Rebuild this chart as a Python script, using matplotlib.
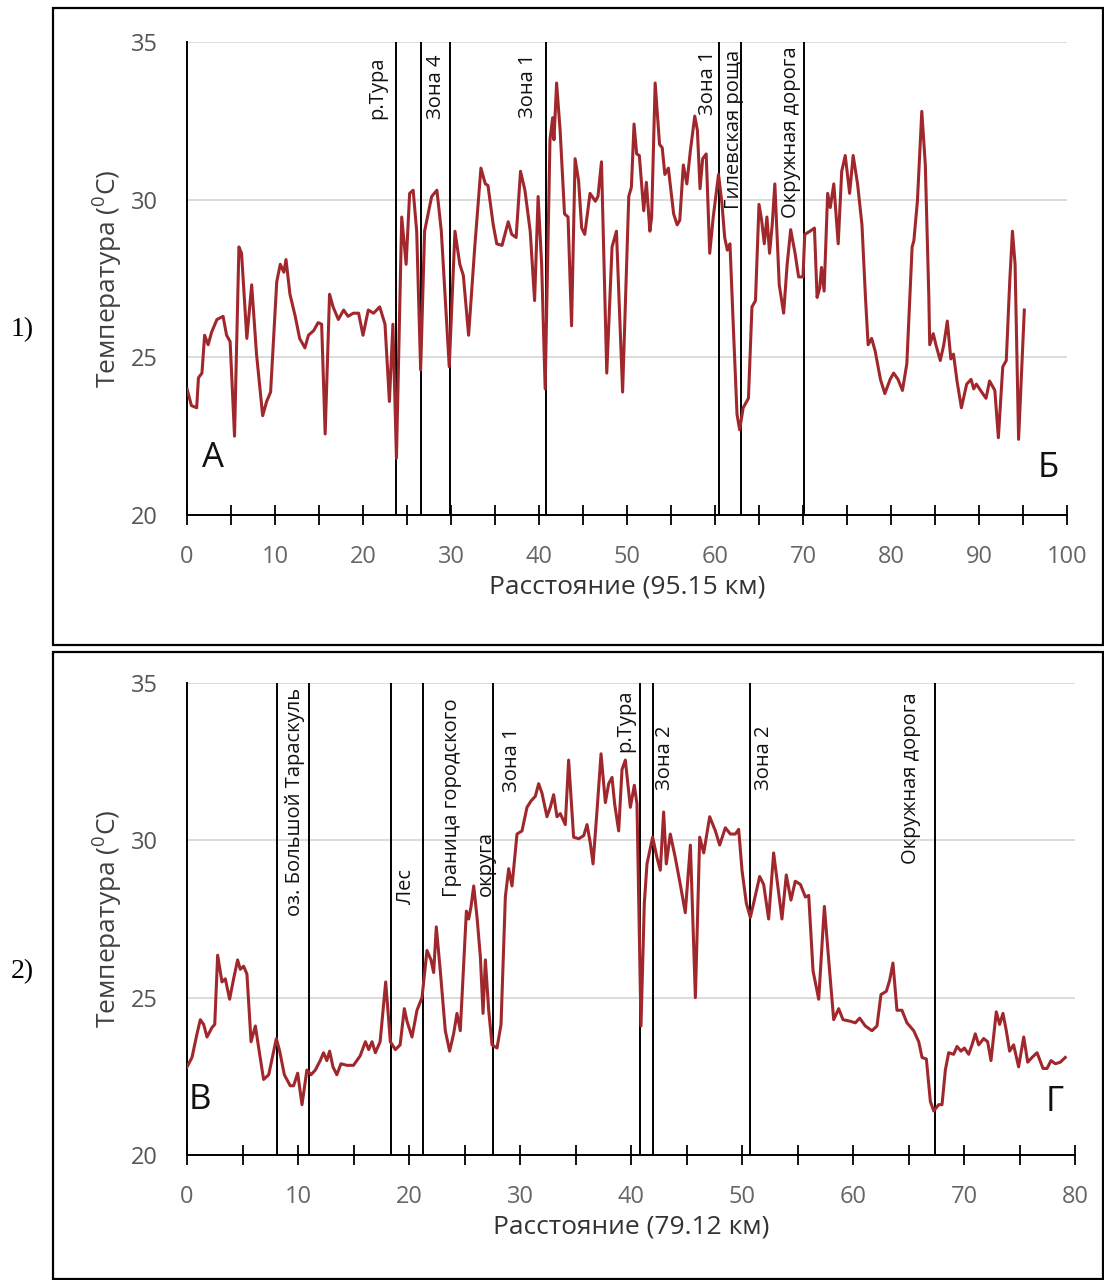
import matplotlib
matplotlib.use('Agg')
import matplotlib.pyplot as plt
from matplotlib.patches import Rectangle
from matplotlib.ticker import MultipleLocator

plt.rcParams['font.family'] = ['Open Sans', 'DejaVu Sans']

# 1) route A - B, 95.15 km
dist1 = [0.0, 0.5, 1.1, 1.3, 1.7, 2.0, 2.4, 2.8, 3.4, 4.1, 4.5, 4.9, 5.4, 5.9, 6.2, 6.8,
         7.35, 7.9, 8.6, 9.05, 9.5, 10.2, 10.6, 11.0, 11.25, 11.7, 12.3, 12.8, 13.4, 13.8,
         14.4, 14.9, 15.3, 15.7, 16.2, 16.6, 17.2, 17.8, 18.3, 18.9, 19.5, 20.0, 20.6, 21.2,
         21.9, 22.5, 23.0, 23.4, 23.8, 24.4, 24.9, 25.3, 25.7, 26.1, 26.55, 27.0, 27.4, 27.8,
         28.4, 28.9, 29.8, 30.45, 31.0, 31.4, 32.0, 32.35, 32.7, 33.4, 33.9, 34.2, 34.8, 35.2,
         35.8, 36.5, 36.9, 37.4, 37.9, 38.4, 39.0, 39.5, 39.9, 40.3, 40.7, 41.25, 41.55, 41.7,
         42.0, 42.4, 42.9, 43.3, 43.7, 44.1, 44.5, 44.85, 45.2, 45.8, 46.4, 46.7, 47.1, 47.7,
         48.3, 48.8, 49.5, 50.2, 50.5, 50.8, 51.1, 51.4, 51.9, 52.2, 52.6, 52.8, 53.2, 53.7,
         54.0, 54.3, 54.7, 55.3, 55.7, 56.0, 56.4, 56.8, 57.2, 57.7, 58.0, 58.3, 58.6, 59.0,
         59.4, 59.8, 60.4, 60.8, 61.1, 61.4, 61.7, 62.1, 62.5, 62.8, 63.2, 63.8, 64.2, 64.6,
         65.0, 65.3, 65.6, 65.9, 66.2, 66.5, 66.8, 67.3, 67.8, 68.2, 68.6, 69.1, 69.5, 70.0,
         70.2, 70.8, 71.3, 71.6, 71.9, 72.1, 72.4, 72.8, 73.1, 73.5, 74.0, 74.4, 74.8, 75.3,
         75.7, 76.2, 76.7, 77.1, 77.4, 77.8, 78.2, 78.8, 79.3, 79.9, 80.3, 80.8, 81.3, 81.8,
         82.4, 82.6, 83.0, 83.5, 83.9, 84.3, 84.4, 84.8, 85.1, 85.6, 86.0, 86.4, 86.8, 87.1,
         87.5, 88.0, 88.6, 89.1, 89.4, 89.7, 90.3, 90.8, 91.2, 91.8, 92.2, 92.7, 93.1, 93.5,
         93.8, 94.1, 94.5, 95.15]
temp1 = [24.0, 23.47, 23.4, 24.35, 24.5, 25.7, 25.4, 25.8, 26.2, 26.3, 25.7, 25.5, 22.5, 28.5,
         28.3, 25.6, 27.3, 25.1, 23.15, 23.6, 23.9, 27.4, 27.95, 27.7, 28.1, 27.0, 26.3, 25.6,
         25.3, 25.7, 25.85, 26.1, 26.05, 22.57, 27.0, 26.6, 26.2, 26.5, 26.3, 26.4, 26.4, 25.7,
         26.5, 26.4, 26.6, 26.05, 23.6, 26.05, 21.8, 29.45, 27.95, 30.2, 30.3, 29.0, 24.6, 29.0,
         29.55, 30.1, 30.3, 29.0, 24.7, 29.0, 27.95, 27.6, 25.7, 27.1, 28.5, 31.0, 30.5, 30.45,
         29.2, 28.6, 28.55, 29.3, 28.9, 28.8, 30.9, 30.3, 29.0, 26.8, 30.1, 27.95, 24.0, 31.9,
         32.6, 31.9, 33.7, 32.2, 29.55, 29.45, 26.0, 31.3, 30.6, 29.1, 28.9, 30.2, 29.95, 30.1,
         31.2, 24.5, 28.5, 29.0, 23.9, 30.1, 30.4, 32.4, 31.45, 31.4, 29.65, 30.55, 29.0, 29.45,
         33.7, 31.75, 31.65, 30.8, 31.0, 29.55, 29.2, 29.35, 31.1, 30.5, 31.55, 32.65, 32.2,
         30.35, 31.3, 31.45, 28.3, 29.45, 30.8, 29.85, 28.8, 28.4, 28.6, 25.85, 23.2, 22.7, 23.4,
         23.7, 26.6, 26.8, 29.85, 29.35, 28.6, 29.45, 28.3, 29.2, 30.5, 27.3, 26.4, 27.95, 29.05,
         28.3, 27.55, 27.55, 28.9, 29.0, 29.1, 26.9, 27.2, 27.85, 27.1, 30.2, 29.75, 30.5, 28.6,
         30.9, 31.4, 30.2, 31.4, 30.5, 29.2, 26.9, 25.4, 25.6, 25.2, 24.3, 23.85, 24.3, 24.5,
         24.3, 23.95, 24.8, 28.5, 28.7, 29.95, 32.8, 31.1, 26.9, 25.4, 25.75, 25.4, 24.9, 25.4,
         26.15, 24.95, 25.1, 24.25, 23.4, 24.15, 24.3, 24.0, 24.15, 23.9, 23.7, 24.25, 23.95,
         22.45, 24.7, 24.9, 27.45, 29.0, 27.95, 22.4, 26.5]
marks1 = [23.7, 26.6, 29.9, 40.8, 60.5, 63.0, 70.1]
names1 = ['р.Тура', 'Зона 4', 'Зона 1', 'Зона 1', 'Гилевская роща', 'Окружная дорога']
name_x1 = [21.6, 28.3, 38.8, 59.2, 62.2, 68.6]
name_top1 = [34.55, 34.6, 34.65, 34.75, 34.75, 34.85]

# 2) route В - Г, 79.12 km
dist2 = [0.0, 0.45, 0.9, 1.2, 1.5, 1.8, 2.25, 2.5, 2.76, 3.15, 3.45, 3.84, 4.2, 4.56, 4.8, 5.1,
         5.4, 5.77, 6.16, 6.46, 6.9, 7.36, 7.75, 8.05, 8.35, 8.77, 9.3, 9.6, 9.97, 10.36, 10.8,
         11.17, 11.56, 12.0, 12.3, 12.6, 12.85, 13.15, 13.5, 13.87, 14.4, 15.0, 15.6, 16.07,
         16.37, 16.67, 16.97, 17.4, 17.9, 18.32, 18.77, 19.2, 19.58, 19.82, 20.27, 20.72, 21.17,
         21.62, 21.98, 22.22, 22.46, 22.82, 23.27, 23.66, 24.02, 24.32, 24.62, 25.17, 25.38,
         25.59, 25.83, 26.13, 26.43, 26.67, 26.88, 27.18, 27.48, 27.93, 28.29, 28.68, 28.98,
         29.28, 29.73, 30.18, 30.63, 30.99, 31.38, 31.68, 31.98, 32.43, 32.73, 33.03, 33.33,
         33.63, 34.08, 34.38, 34.83, 35.29, 35.74, 36.04, 36.34, 36.58, 36.94, 37.3, 37.69,
         37.99, 38.29, 38.53, 38.89, 39.19, 39.49, 39.94, 40.3, 40.54, 40.9, 41.2, 41.44, 41.95,
         42.34, 42.64, 42.94, 43.18, 43.54, 43.99, 44.44, 44.89, 45.35, 45.8, 46.19, 46.55,
         47.09, 47.6, 47.99, 48.5, 48.95, 49.4, 49.7, 50.0, 50.39, 50.75, 51.11, 51.59, 51.95,
         52.4, 52.85, 53.21, 53.6, 53.99, 54.41, 54.8, 55.26, 55.71, 56.01, 56.4, 56.91, 57.42,
         57.81, 58.26, 58.71, 59.1, 59.76, 60.21, 60.6, 61.11, 61.71, 62.16, 62.52, 63.0, 63.3,
         63.6, 63.96, 64.41, 64.86, 65.47, 65.92, 66.22, 66.61, 66.97, 67.27, 67.72, 68.02,
         68.32, 68.62, 69.07, 69.37, 69.73, 70.03, 70.42, 70.72, 71.02, 71.32, 71.77, 72.13,
         72.43, 72.91, 73.21, 73.51, 73.81, 74.11, 74.47, 74.92, 75.38, 75.74, 76.13, 76.58,
         77.12, 77.48, 77.84, 78.23, 78.68, 79.12]
temp2 = [22.8, 23.1, 23.85, 24.3, 24.15, 23.75, 24.05, 24.15, 26.35, 25.5, 25.6, 24.95, 25.6,
         26.2, 25.9, 26.0, 25.75, 23.6, 24.1, 23.4, 22.4, 22.55, 23.2, 23.7, 23.3, 22.55, 22.2,
         22.2, 22.6, 21.6, 22.7, 22.55, 22.7, 23.0, 23.25, 23.0, 23.3, 22.8, 22.55, 22.9, 22.85,
         22.85, 23.15, 23.6, 23.35, 23.6, 23.25, 23.6, 25.5, 23.6, 23.35, 23.5, 24.65, 24.25,
         23.75, 24.6, 25.0, 26.5, 26.2, 25.8, 27.25, 25.85, 23.95, 23.3, 23.85, 24.5, 23.95,
         27.75, 27.5, 27.9, 28.55, 27.55, 26.3, 24.5, 26.2, 24.6, 23.5, 23.4, 24.15, 28.2, 29.1,
         28.55, 30.2, 30.3, 31.05, 31.25, 31.4, 31.8, 31.5, 30.75, 31.05, 31.45, 30.75, 30.85,
         30.5, 32.55, 30.1, 30.05, 30.15, 30.5, 29.9, 29.25, 30.95, 32.75, 31.2, 31.8, 32.0,
         31.15, 30.3, 32.25, 32.55, 31.05, 31.75, 31.15, 24.1, 28.0, 29.25, 30.1, 29.45, 29.05,
         30.9, 29.25, 30.2, 29.45, 28.6, 27.7, 29.85, 25.0, 30.1, 29.6, 30.75, 30.3, 29.85, 30.4,
         30.2, 30.2, 30.35, 29.05, 28.0, 27.55, 28.1, 28.85, 28.6, 27.5, 29.6, 28.6, 27.5, 28.9,
         28.1, 28.7, 28.6, 28.2, 28.25, 25.85, 24.95, 27.9, 26.2, 24.3, 24.65, 24.3, 24.25, 24.2,
         24.35, 24.1, 23.95, 24.1, 25.1, 25.2, 25.55, 26.1, 24.6, 24.6, 24.2, 23.95, 23.6, 23.1,
         23.05, 21.7, 21.4, 21.6, 21.6, 22.7, 23.25, 23.2, 23.45, 23.3, 23.4, 23.2, 23.5, 23.85,
         23.5, 23.7, 23.6, 23.0, 24.55, 24.15, 24.5, 23.95, 23.3, 23.5, 22.8, 23.75, 22.95, 23.1,
         23.25, 22.75, 22.75, 23.0, 22.9, 22.95, 23.1]
marks2 = [8.08, 11.0, 18.4, 21.3, 27.6, 40.8, 41.95, 50.75, 67.4]
names2 = ['оз. Большой Тараскуль', 'Лес', 'Граница городского', 'округа', 'Зона 1',
          'р.Тура', 'Зона 2', 'Зона 2', 'Окружная дорога']
name_x2 = [9.75, 19.7, 23.9, 26.9, 29.3, 39.5, 43.1, 52.0, 65.2]
name_top2 = [34.85, 29.1, 34.5, 30.3, 33.6, 34.8, 33.65, 33.65, 34.7]

line_color = '#a0282d'
W, H = 1104, 1280
fig = plt.figure(figsize=(W / 100, H / 100), dpi=100)

# panel frames
fig.patches.append(Rectangle((53 / W, 1 - 645 / H), 1 - 54 / W, 637 / H, transform=fig.transFigure,
                             fill=False, ec='black', lw=1.6))
fig.patches.append(Rectangle((53 / W, 1 / H), 1 - 54 / W, 627 / H, transform=fig.transFigure,
                             fill=False, ec='black', lw=1.6))
fig.text(22 / W, 1 - 330 / H, '1)', family='Liberation Serif', fontsize=20, ha='center', va='center')
fig.text(22 / W, 1 - 972 / H, '2)', family='Liberation Serif', fontsize=20, ha='center', va='center')


def draw_panel(ax, dist, temp, marks, names, name_x, name_top, xmax, xlabel, ends, end_pos):
    ax.set_xlim(0, xmax)
    ax.set_ylim(20, 35)
    for t in [25, 30, 35]:
        ax.axhline(t, color='#d9d9d9', lw=1.3, zorder=0)
    ax.plot(dist, temp, color=line_color, lw=2.2, zorder=3)
    for m in marks:
        ax.axvline(m, color='black', lw=1.4, zorder=2)
    for n, x, top in zip(names, name_x, name_top):
        ax.text(x, top, n, rotation=90, ha='center', va='top', fontsize=14.5, color='#111111')
    for letter, (x, y) in zip(ends, end_pos):
        ax.text(x, y, letter, ha='center', va='center', fontsize=25, color='#111111')
    for s in ['top', 'right']:
        ax.spines[s].set_visible(False)
    ax.spines['left'].set_linewidth(1.4)
    ax.spines['bottom'].set_linewidth(1.4)
    ax.xaxis.set_major_locator(MultipleLocator(10))
    ax.xaxis.set_minor_locator(MultipleLocator(5))
    ax.set_yticks([20, 25, 30, 35])
    ax.tick_params(axis='x', which='both', direction='inout', length=15, width=1.3,
                   labelsize=17, labelcolor='#666666', pad=14)
    ax.tick_params(axis='y', length=0, labelsize=17, labelcolor='#555555', pad=21)
    ax.set_xlabel(xlabel, fontsize=19, color='#333333', labelpad=4)
    ax.set_ylabel('Температура ($\\mathregular{^0}$C)', fontsize=19, color='#404040', labelpad=4)


ax1 = fig.add_axes([187 / W, 1 - 515 / H, 880 / W, 473 / H])
draw_panel(ax1, dist1, temp1, marks1, names1, name_x1, name_top1, 100,
           'Расстояние (95.15 км)', ['А', 'Б'], [(2.9, 21.8), (97.9, 21.5)])

ax2 = fig.add_axes([187 / W, 1 - 1155 / H, 888 / W, 472 / H])
draw_panel(ax2, dist2, temp2, marks2, names2, name_x2, name_top2, 80,
           'Расстояние (79.12 км)', ['В', 'Г'], [(1.2, 21.75), (78.2, 21.7)])

fig.savefig('out.png', dpi=100)
